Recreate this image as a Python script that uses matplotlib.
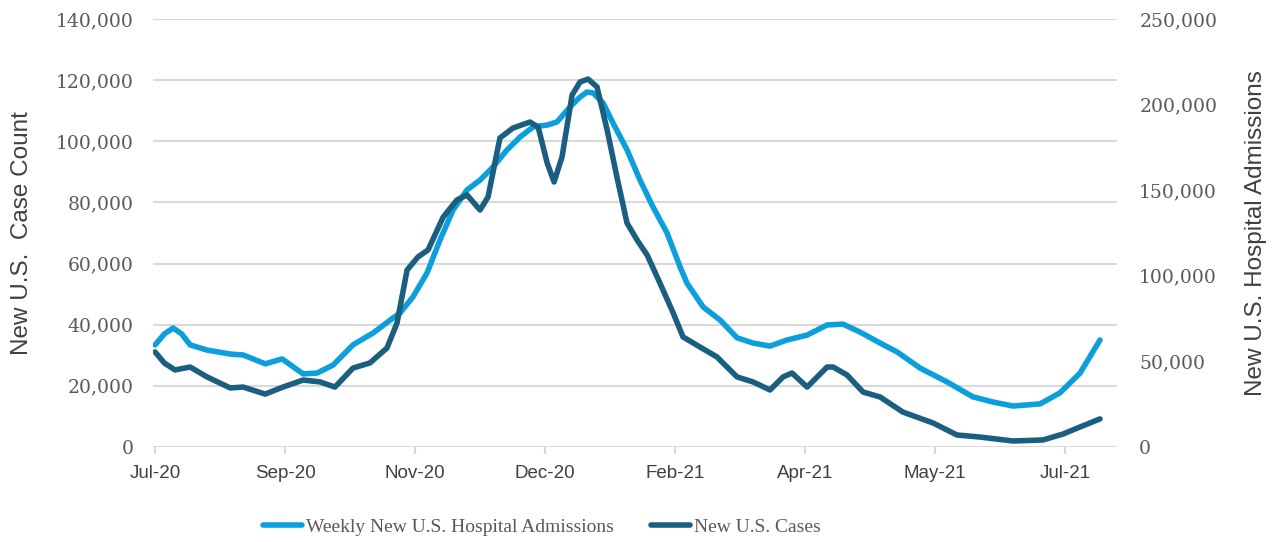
import matplotlib
matplotlib.use("Agg")
import matplotlib.pyplot as plt
import matplotlib.dates as mdates
import matplotlib.ticker as mticker
import pandas as pd

# %% data (days after 2020-07-31, values in thousands)
start = pd.Timestamp("2020-07-31")

adm_day = [0, 3.5, 6.8, 10.0, 13.2, 19.6, 28.3, 33.2, 41.5, 47.9, 55.8, 61.1, 67.1, 74.6, 82.2, 89.7,
           92.3, 97.2, 102.5, 107.4, 112.3, 117.6, 122.5, 127.4, 132.7, 137.6, 142.5, 147.8,
           151.5, 156.4, 160.0, 162.8, 165.1, 168.9, 172.6, 177.9, 182.8, 187.7, 193.0, 197.9, 200.5,
           206.6, 213.0, 219.4, 225.4, 231.8, 238.2, 245.8, 253.3, 259.3, 265.7, 273.3, 279.7,
           288.4, 298.5, 308.3, 315.9, 323.4, 333.6, 341.1, 348.7, 356.2]
adm_val = [33.4, 37.0, 38.9, 37.0, 33.4, 31.7, 30.4, 30.1, 27.2, 28.8, 23.9, 24.2, 26.8, 33.4, 37.3, 42.2,
           43.8, 49.1, 56.9, 67.7, 77.5, 84.1, 87.3, 91.6, 97.2, 101.4, 104.7, 105.3,
           106.3, 111.2, 114.3, 116.1, 115.8, 112.5, 106.0, 97.2, 87.3, 78.5, 70.0, 58.9, 53.6,
           45.8, 41.5, 35.7, 34.0, 33.0, 35.0, 36.6, 39.9, 40.2, 37.6, 34.0, 31.1,
           25.8, 21.3, 16.4, 14.7, 13.4, 14.1, 17.7, 24.2, 35.0]

case_day = [0, 3.5, 7.5, 13.2, 19.6, 28.3, 33.2, 41.5, 48.2, 55.8, 62.2, 67.8, 74.6, 81.0, 87.4,
            91.2, 95.0, 99.1, 102.9, 108.6, 113.8, 117.6, 122.5, 125.5, 130.0, 134.9, 141.3,
            144.4, 147.8, 150.4, 153.4, 157.2, 160.2, 163.2, 166.6, 170.4, 174.1, 177.9, 181.7,
            185.5, 190.3, 195.3, 199.0, 205.4, 211.8, 219.4, 225.4, 231.8, 236.7, 240.1, 245.8,
            253.3, 255.6, 260.8, 266.9, 273.3, 281.9, 293.3, 302.3, 311.0, 323.4, 334.7, 342.3,
            348.7, 356.2]
case_val = [55.5, 49.0, 45.0, 46.7, 40.9, 34.5, 35.0, 30.9, 35.0, 39.1, 38.0, 35.0, 46.1, 49.1, 57.8,
            72.4, 103.4, 111.0, 115.1, 134.3, 144.3, 147.2, 138.4, 146.0, 180.5, 186.3, 189.8,
            186.9, 165.9, 154.8, 169.4, 205.6, 213.2, 214.9, 210.3, 185.2, 157.7, 130.8, 120.9,
            112.1, 95.8, 78.3, 64.3, 58.4, 52.6, 40.9, 38.0, 33.3, 40.9, 43.2, 35.0,
            46.7, 46.7, 42.1, 32.1, 29.2, 20.4, 14.0, 7.0, 5.8, 3.5, 4.1, 7.6,
            11.7, 16.4]

adm_x = start + pd.to_timedelta(adm_day, unit="D")
case_x = start + pd.to_timedelta(case_day, unit="D")
adm_y = [v * 1000 for v in adm_val]
case_y = [v * 1000 for v in case_val]

light_blue = "#0C9FDB"
dark_blue = "#1A5E80"
grid_grey = "#D9D9D9"
text_grey = "#595959"

# %% plot
fig = plt.figure(figsize=(12.78, 5.42), dpi=100)
ax = fig.add_axes([0.1197, 0.1753, 0.7543, 0.7897])
ax2 = ax.twinx()

ax.plot(adm_x, adm_y, color=light_blue, lw=4.0, solid_capstyle="round", solid_joinstyle="round",
        label="Weekly New U.S. Hospital Admissions")
ax2.plot(case_x, case_y, color=dark_blue, lw=4.0, solid_capstyle="round", solid_joinstyle="round",
         label="New U.S. Cases")

ax.set_ylim(0, 140000)
ax2.set_ylim(0, 250000)
ax.set_xlim(start - pd.Timedelta(days=0.8), start + pd.Timedelta(days=362.6))

ax.yaxis.set_major_locator(mticker.MultipleLocator(20000))
ax2.yaxis.set_major_locator(mticker.MultipleLocator(50000))
fmt = mticker.FuncFormatter(lambda v, p: f"{v:,.0f}")
ax.yaxis.set_major_formatter(fmt)
ax2.yaxis.set_major_formatter(fmt)

ax.set_xticks(pd.date_range(start, periods=8, freq="49D"))
ax.xaxis.set_major_formatter(mdates.DateFormatter("%b-%y"))

ax.grid(axis="y", color=grid_grey, lw=1.5)
ax.set_axisbelow(True)
for a in (ax, ax2):
    for s in ("top", "left", "right", "bottom"):
        a.spines[s].set_visible(False)

ax.tick_params(axis="y", length=0, pad=14, labelsize=13.5, labelcolor=text_grey)
ax2.tick_params(axis="y", length=0, pad=16, labelsize=13.5, labelcolor=text_grey)
for lbl in ax.get_yticklabels() + ax2.get_yticklabels():
    lbl.set_fontfamily("DejaVu Serif")
ax.tick_params(axis="x", length=5, width=1.5, color=grid_grey, pad=8,
               labelsize=13.5, labelcolor="#404040")
for lbl in ax.get_xticklabels():
    lbl.set_fontfamily("Liberation Sans")

ax.set_ylabel("New U.S.  Case Count", fontsize=17.5, color="#404040",
              fontfamily="Liberation Sans", labelpad=16)
ax2.set_ylabel("New U.S. Hospital Admissions", fontsize=17.5, color="#404040",
               fontfamily="Liberation Sans", labelpad=20)

h1, l1 = ax.get_legend_handles_labels()
h2, l2 = ax2.get_legend_handles_labels()
fig.legend(h1 + h2, l1 + l2, loc="center left", bbox_to_anchor=(0.206, 0.028), ncol=2,
           frameon=False, borderpad=0, borderaxespad=0, handlelength=2.0, handletextpad=0.2,
           columnspacing=1.9, prop={"family": "Liberation Serif", "size": 14},
           labelcolor=text_grey)

fig.savefig("out.png", dpi=100)
